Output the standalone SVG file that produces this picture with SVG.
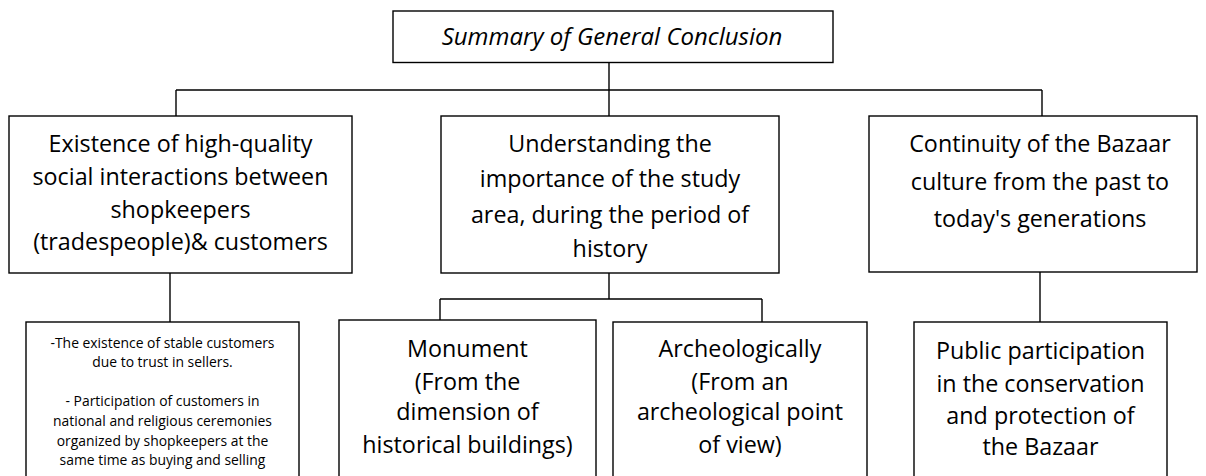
<svg xmlns="http://www.w3.org/2000/svg" width="1206" height="476" viewBox="0 0 1206 476">
<style>
.box{fill:#fff;stroke:#000;stroke-width:1.4}
.ln{fill:none;stroke:#000;stroke-width:1.4}
text{font-family:"Open Sans","Liberation Sans",sans-serif;fill:#000;text-anchor:middle}
.t{font-size:23.3px}
.s{font-size:13.9px}
.ti{font-size:24px;font-style:italic}
</style>
<rect width="1206" height="476" fill="#fff"/>
<g id="connectors">
<path class="ln" d="M609,62.5V90M176,90H1042M176,90V116M609,90V116M1042,90V116"/>
<path class="ln" d="M170,273V322"/>
<path class="ln" d="M609,273V299M440,299H762M440,299V320M762,299V322"/>
<path class="ln" d="M1040,272V322"/>
</g>
<g id="n-title">
<rect class="box" x="393" y="11" width="440" height="51.5"/>
<text class="ti" x="612" y="45">Summary of General Conclusion</text>
</g>
<g id="n-social">
<rect class="box" x="9" y="116" width="343" height="157"/>
<text class="t" x="180.5" y="152">Existence of high-quality</text>
<text class="t" x="180.5" y="185">social interactions between</text>
<text class="t" x="180.5" y="218">shopkeepers</text>
<text class="t" x="180.5" y="250">(tradespeople)&amp; customers</text>
</g>
<g id="n-importance">
<rect class="box" x="441" y="116" width="338" height="157"/>
<text class="t" x="610" y="152">Understanding the</text>
<text class="t" x="610" y="187">importance of the study</text>
<text class="t" x="610" y="223">area, during the period of</text>
<text class="t" x="610" y="257">history</text>
</g>
<g id="n-continuity">
<rect class="box" x="869" y="116" width="328" height="156"/>
<text class="t" x="1040" y="152">Continuity of the Bazaar</text>
<text class="t" x="1040" y="190">culture from the past to</text>
<text class="t" x="1040" y="227">today's generations</text>
</g>
<g id="n-customers">
<rect class="box" x="26" y="322" width="273" height="170"/>
<text class="s" x="162.5" y="348">-The existence of stable customers</text>
<text class="s" x="162.5" y="367">due to trust in sellers.</text>
<text class="s" x="162.5" y="406">- Participation of customers in</text>
<text class="s" x="162.5" y="426">national and religious ceremonies</text>
<text class="s" x="162.5" y="446">organized by shopkeepers at the</text>
<text class="s" x="162.5" y="465">same time as buying and selling</text>
</g>
<g id="n-monument">
<rect class="box" x="339" y="320" width="257" height="172"/>
<text class="t" x="467.5" y="357">Monument</text>
<text class="t" x="467.5" y="390">(From the</text>
<text class="t" x="467.5" y="420">dimension of</text>
<text class="t" x="467.5" y="453">historical buildings)</text>
</g>
<g id="n-archeo">
<rect class="box" x="613" y="322" width="254" height="170"/>
<text class="t" x="740" y="357">Archeologically</text>
<text class="t" x="740" y="390">(From an</text>
<text class="t" x="740" y="420">archeological point</text>
<text class="t" x="740" y="453">of view)</text>
</g>
<g id="n-public">
<rect class="box" x="914" y="322" width="253" height="170"/>
<text class="t" x="1040.5" y="359">Public participation</text>
<text class="t" x="1040.5" y="392">in the conservation</text>
<text class="t" x="1040.5" y="424">and protection of</text>
<text class="t" x="1040.5" y="455">the Bazaar</text>
</g>
</svg>
